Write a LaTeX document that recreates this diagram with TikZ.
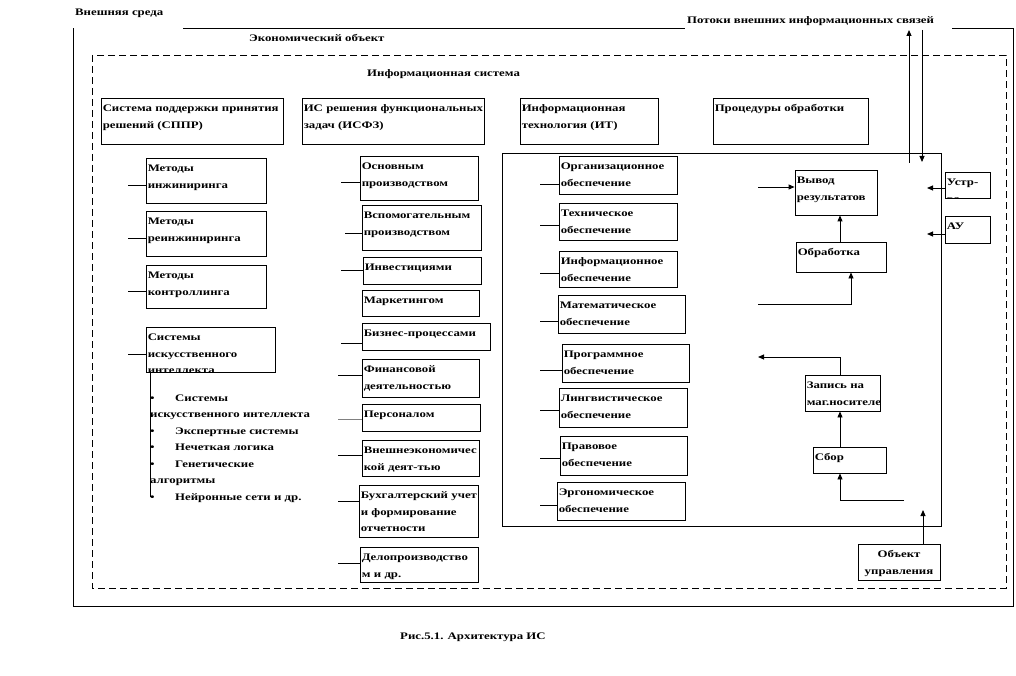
\documentclass[tikz,border=0pt]{standalone}
\usepackage{fontspec}
\setmainfont{Liberation Serif}[FakeStretch=1.28]
\usetikzlibrary{arrows.meta,fit}
\newcommand\bx[6]{%
  \path (#2,#3) coordinate (#1-a) (#4,#5) coordinate (#1-b);
  \node[box, fit=(#1-a)(#1-b)] (#1) {};
  \node[txt, xshift=2pt, yshift=-14pt] (#1-t) at (#1.north west) {#6};
}
\newcommand\bxc[6]{%
  \path (#2,#3) coordinate (#1-a) (#4,#5) coordinate (#1-b);
  \node[box, fit=(#1-a)(#1-b)] (#1) {};
  \begin{scope}
    \clip (#1-a) rectangle (#1-b);
    \node[txt, xshift=2pt, yshift=-14pt] (#1-t) at (#1.north west) {#6};
  \end{scope}
}
\begin{document}
\begin{tikzpicture}[x=1pt,y=-1pt,
  box/.style={draw, line width=0.9pt, inner sep=0pt},
  txt/.style={anchor=base west, inner sep=0pt, text width=300pt, align=left,
    font=\fontsize{10}{16.5}\selectfont\bfseries},
  lbl/.style={anchor=base west, inner sep=0pt, font=\fontsize{10}{16.5}\selectfont\bfseries},
  ln/.style={line width=0.9pt},
  arr/.style={ln, -{Triangle[length=6pt,width=5pt]}},
  dashbox/.style={draw, line width=0.9pt, dash pattern=on 7pt off 4pt}]
\useasboundingbox (0,0) rectangle (1016,676);

% outer frame (economic object)
\draw[ln] (183,28) -- (685,28);
\draw[ln] (952,28) -- (1013,28) -- (1013,606) -- (73,606) -- (73,28);
\node[lbl] (env) at (75,16) {Внешняя среда};
\node[lbl] (eco) at (249,42) {Экономический объект};
\node[lbl] (flow) at (687,24) {Потоки внешних  информационных связей};

% information system (dashed)
\draw[dashbox] (92,55) rectangle (1006,588);
\node[lbl] (is) at (367,77) {Информационная система};

% header boxes
\bx{sppr}{101}{98}{283}{144}{Система поддержки принятия\\решений (СППР)}
\bx{isfz}{302}{98}{484}{144}{ИС решения функциональных\\задач (ИСФЗ)}
\bx{it}{520}{98}{658}{144}{Информационная\\технология (ИТ)}
\bx{proc}{713}{98}{868}{144}{Процедуры обработки}

% left column
\bx{m1}{146}{158}{266}{203}{Методы\\инжиниринга}
\bx{m2}{146}{211}{266}{256}{Методы\\реинжиниринга}
\bx{m3}{146}{265}{266}{308}{Методы\\контроллинга}
\bxc{ai}{146}{327}{275}{372}{Системы\\искусственного\\интеллекта}
\coordinate (s1) at (128,185); \draw[ln] (s1) -- (s1 -| m1.west);
\coordinate (s2) at (128,238); \draw[ln] (s2) -- (s2 -| m2.west);
\coordinate (s3) at (128,291); \draw[ln] (s3) -- (s3 -| m3.west);
\coordinate (s4) at (128,354); \draw[ln] (s4) -- (s4 -| ai.west);
\coordinate (aiL) at (150,497); \draw[ln] (aiL |- ai.south) -- (aiL);
\node[txt, text width=200pt] (list) at (150,401) {%
  \makebox[25pt][l]{•}Системы\\
  искусственного интеллекта\\
  \makebox[25pt][l]{•}Экспертные системы\\
  \makebox[25pt][l]{•}Нечеткая логика\\
  \makebox[25pt][l]{•}Генетические\\
  алгоритмы\\
  \makebox[25pt][l]{•}Нейронные сети и др.};

% middle column
\bx{f1}{360}{156}{478}{200}{Основным\\производством}
\bx{f2}{362}{205}{481}{250}{Вспомогательным\\производством}
\bx{f3}{363}{257}{481}{284}{Инвестициями}
\bx{f4}{362}{290}{479}{316}{Маркетингом}
\bx{f5}{362}{323}{490}{350}{Бизнес-процессами}
\bx{f6}{362}{359}{479}{397}{Финансовой\\деятельностью}
\bx{f7}{362}{404}{480}{431}{Персоналом}
\bx{f8}{362}{440}{479}{476}{Внешнеэкономичес\\кой деят-тью}
\bx{f9}{359}{485}{478}{537}{Бухгалтерский  учет\\и формирование\\отчетности}
\bx{f10}{360}{547}{478}{582}{Делопроизводство\\м и др.}
\coordinate (g1) at (341,182); \draw[ln] (g1) -- (g1 -| f1.west);
\coordinate (g2) at (345,233); \draw[ln] (g2) -- (g2 -| f2.west);
\coordinate (g3) at (341,270); \draw[ln] (g3) -- (g3 -| f3.west);
\coordinate (g5) at (341,343); \draw[ln] (g5) -- (g5 -| f5.west);
\coordinate (g6) at (338,375); \draw[ln] (g6) -- (g6 -| f6.west);
\coordinate (g7) at (338,419); \draw[ln, gray] (g7) -- (g7 -| f7.west);
\coordinate (g8) at (338,455); \draw[ln] (g8) -- (g8 -| f8.west);
\coordinate (g9) at (338,501); \draw[ln] (g9) -- (g9 -| f9.west);
\coordinate (g10) at (338,563); \draw[ln] (g10) -- (g10 -| f10.west);

% IT frame
\path (502,153) coordinate (itf-a) (941,526) coordinate (itf-b);
\node[box, fit=(itf-a)(itf-b)] (itframe) {};

\bx{o1}{559}{156}{677}{194}{Организационное\\обеспечение}
\bx{o2}{559}{203}{677}{240}{Техническое\\обеспечение}
\bx{o3}{559}{251}{677}{287}{Информационное\\обеспечение}
\bx{o4}{558}{295}{685}{333}{Математическое\\обеспечение}
\bx{o5}{562}{344}{689}{382}{Программное\\обеспечение}
\bx{o6}{559}{388}{687}{427}{Лингвистическое\\обеспечение}
\bx{o7}{560}{436}{687}{475}{Правовое\\обеспечение}
\bx{o8}{557}{482}{685}{520}{Эргономическое\\обеспечение}
\coordinate (h1) at (540,184); \draw[ln] (h1) -- (h1 -| o1.west);
\coordinate (h2) at (540,225); \draw[ln] (h2) -- (h2 -| o2.west);
\coordinate (h3) at (540,273); \draw[ln] (h3) -- (h3 -| o3.west);
\coordinate (h4) at (540,321); \draw[ln] (h4) -- (h4 -| o4.west);
\coordinate (h5) at (540,370); \draw[ln] (h5) -- (h5 -| o5.west);
\coordinate (h6) at (540,410); \draw[ln] (h6) -- (h6 -| o6.west);
\coordinate (h7) at (540,458); \draw[ln] (h7) -- (h7 -| o7.west);
\coordinate (h8) at (540,505); \draw[ln] (h8) -- (h8 -| o8.west);

% processing procedures
\bx{out}{795}{170}{877}{215}{Вывод\\результатов}
\bx{proc2}{796}{242}{886}{272}{Обработка}
\bx{rec}{805}{375}{880}{411}{Запись на\\маг.носителе}
\bx{col}{813}{447}{886}{473}{Сбор}
\bxc{dev}{945}{172}{990}{198}{Устр-\\ва}
\bx{au}{945}{216}{990}{243}{АУ}
\path (858,544) coordinate (obj-a) (940,580) coordinate (obj-b);
\node[box, fit=(obj-a)(obj-b)] (obj) {};
\node[txt, anchor=base, text width=82pt, align=center] (obj-t) at ([yshift=-14pt]obj.north) {Объект\\управления};

\coordinate (cx) at (840,0);
\coordinate (a1) at (758,187); \draw[arr] (a1) -- (a1 -| out.west);
\draw[arr] (cx |- proc2.north) -- (cx |- out.south);
\coordinate (a2) at (758,304); \coordinate (a2c) at (851,304);
\draw[arr] (a2) -- (a2c) -- (a2c |- proc2.south);
\coordinate (a3) at (758,357);
\draw[arr] (cx |- rec.north) -- (cx |- a3) -- (a3);
\draw[arr] (cx |- col.north) -- (cx |- rec.south);
\coordinate (a4) at (904,500);
\draw[arr] (a4) -- (cx |- a4) -- (cx |- col.south);
\coordinate (a5) at (923,510); \draw[arr] (a5 |- obj.north) -- (a5);
\coordinate (a6) at (927,188); \draw[arr] (dev.west |- a6) -- (a6);
\coordinate (a7) at (927,234); \draw[arr] (au.west |- a7) -- (a7);
\coordinate (t1) at (909,163); \coordinate (t1e) at (909,30); \draw[arr] (t1) -- (t1e);
\coordinate (t2) at (922,30); \coordinate (t2e) at (922,162); \draw[arr] (t2) -- (t2e);

\node[lbl] (cap) at (400,639) {Рис.5.1.  Архитектура  ИС};
\end{tikzpicture}
\end{document}
